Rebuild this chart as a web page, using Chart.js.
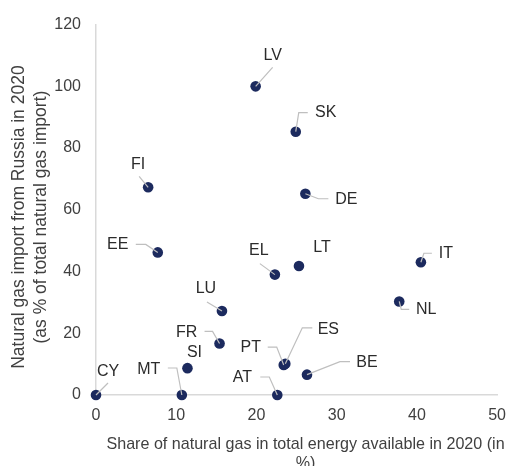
<!DOCTYPE html>
<html>
<head>
<meta charset="utf-8">
<script src="https://cdn.jsdelivr.net/npm/chart.js@4/dist/chart.umd.min.js"></script>
<style>
  html, body { margin: 0; padding: 0; background: #ffffff; }
  #wrap { width: 517px; height: 466px; }
</style>
</head>
<body>
<div id="wrap"><canvas id="c" width="517" height="466"></canvas></div>
<script>
// ---- Data ----
const countries = ['LV','SK','DE','FI','EE','EL','LT','IT','NL','LU','FR','SI','PT','ES','BE','AT','MT','CY'];
const gasShare = [19.9, 24.9, 26.1, 6.5, 7.7, 22.3, 25.3, 40.5, 37.8, 15.7, 15.4, 11.4, 23.4, 23.6, 26.3, 22.6, 10.7, 0];
const russiaImport = [100, 85.3, 65.2, 67.3, 46.2, 39.0, 41.8, 43.0, 30.3, 27.2, 16.7, 8.7, 9.7, 10.1, 6.6, 0, 0, 0];
const xTicks = [0, 10, 20, 30, 40, 50];
const yTicks = [0, 20, 40, 60, 80, 100, 120];
const xTitle = ['Share of natural gas in total energy available in 2020 (in', '%)'];
const yTitle = ['Natural gas import from Russia in 2020', '(as % of total natural gas import)'];

// ---- Label placement (pixel offsets from each point: label centre and leader path) ----
const labelLayout = {
  LV: { d: [17, -31], path: [[0, 0], [17, -19]] },
  SK: { d: [30, -19], path: [[0, 0], [3, -19], [12, -19]] },
  DE: { d: [41, 6], path: [[0, 0], [13, 5], [23, 5]] },
  FI: { d: [-10, -23], path: [[0, 0], [-9, -11]] },
  EE: { d: [-40, -8], path: [[0, 0], [-12, -8], [-22, -8]] },
  EL: { d: [-16, -24], path: [[0, 0], [-15, -11]] },
  LT: { d: [23, -18], path: null },
  IT: { d: [25, -9], path: [[0, 0], [3, -9], [11, -9]] },
  NL: { d: [27, 8], path: [[0, 0], [2, 8], [10, 8]] },
  LU: { d: [-16, -22], path: [[0, 0], [-15, -9]] },
  FR: { d: [-33, -11], path: [[0, 0], [-7, -12], [-15, -12]] },
  SI: { d: [7, -16], path: null },
  PT: { d: [-33, -17], path: [[0, 0], [-7, -18], [-16, -18]] },
  ES: { d: [43, -34], path: [[0, 0], [17, -36], [27, -36]] },
  BE: { d: [60, -12], path: [[0, 0], [33, -13], [43, -13]] },
  AT: { d: [-35, -17], path: [[0, 0], [-8, -18], [-17, -18]] },
  MT: { d: [-33, -25], path: [[0, 0], [-5, -27], [-14, -27]] },
  CY: { d: [12, -23], path: [[0, 0], [12, -12]] }
};

const FONT = "'Liberation Sans', Arial, sans-serif";

const labelPlugin = {
  id: 'pointLabels',
  afterDatasetsDraw(chart) {
    const ctx = chart.ctx;
    const meta = chart.getDatasetMeta(0);
    ctx.save();
    meta.data.forEach((el, i) => {
      const lay = labelLayout[countries[i]];
      if (!lay) return;
      const x = el.x, y = el.y;
      if (lay.path) {
        ctx.beginPath();
        ctx.strokeStyle = '#bfbfbf';
        ctx.lineWidth = 1.2;
        lay.path.forEach((p, k) => {
          if (k === 0) ctx.moveTo(x + p[0], y + p[1]);
          else ctx.lineTo(x + p[0], y + p[1]);
        });
        ctx.stroke();
      }
      ctx.fillStyle = '#2b2b2b';
      ctx.font = '16px ' + FONT;
      ctx.textAlign = 'center';
      ctx.textBaseline = 'middle';
      ctx.fillText(countries[i], x + lay.d[0], y + lay.d[1]);
    });
    ctx.restore();
  }
};

// x-axis title drawn without Chart.js's width squeeze (the original is wider than the axis)
const xTitlePlugin = {
  id: 'xTitle',
  afterDraw(chart) {
    const ctx = chart.ctx;
    const sx = chart.scales.x;
    const cx = (sx.left + sx.right) / 2 + 9;
    ctx.save();
    ctx.fillStyle = '#404040';
    ctx.font = '16.1px ' + FONT;
    ctx.textAlign = 'center';
    ctx.textBaseline = 'middle';
    xTitle.forEach((line, i) => {
      ctx.fillText(line, cx, sx.top + 50 + i * 19);
    });
    ctx.restore();
  }
};

const points = gasShare.map((x, i) => ({ x: x, y: russiaImport[i] }));

new Chart(document.getElementById('c'), {
  type: 'scatter',
  data: {
    datasets: [{
      data: points,
      backgroundColor: '#1c2a5e',
      borderWidth: 0,
      pointRadius: 5.3,
      pointHoverRadius: 5.3,
      clip: false
    }]
  },
  options: {
    responsive: false,
    animation: false,
    devicePixelRatio: 1,
    layout: { padding: { left: 0, right: 19, top: 22, bottom: 0 } },
    plugins: { legend: { display: false }, tooltip: { enabled: false } },
    scales: {
      x: {
        type: 'linear',
        min: 0, max: 50,
        afterBuildTicks(s) { s.ticks = xTicks.map(v => ({ value: v })); },
        afterFit(s) { s.height = 71; },
        grid: { display: false, drawTicks: false },
        border: { display: true, color: '#d9d9d9', width: 1.5 },
        ticks: { padding: 11, color: '#404040', font: { family: FONT, size: 16 }, maxRotation: 0 },
        title: { display: false }
      },
      y: {
        type: 'linear',
        min: 0, max: 120,
        afterBuildTicks(s) { s.ticks = yTicks.map(v => ({ value: v })); },
        afterFit(s) { s.width = 96; },
        grid: { display: false, drawTicks: false },
        border: { display: true, color: '#d9d9d9', width: 1.5 },
        ticks: { padding: 15, color: '#404040', font: { family: FONT, size: 16 } },
        title: {
          display: true, text: yTitle.map(t => t + '   '), color: '#404040',
          font: { family: FONT, size: 17.5, lineHeight: 1.25 },
          padding: { top: 8, bottom: 0 }
        }
      }
    }
  },
  plugins: [labelPlugin, xTitlePlugin]
});
</script>
</body>
</html>
